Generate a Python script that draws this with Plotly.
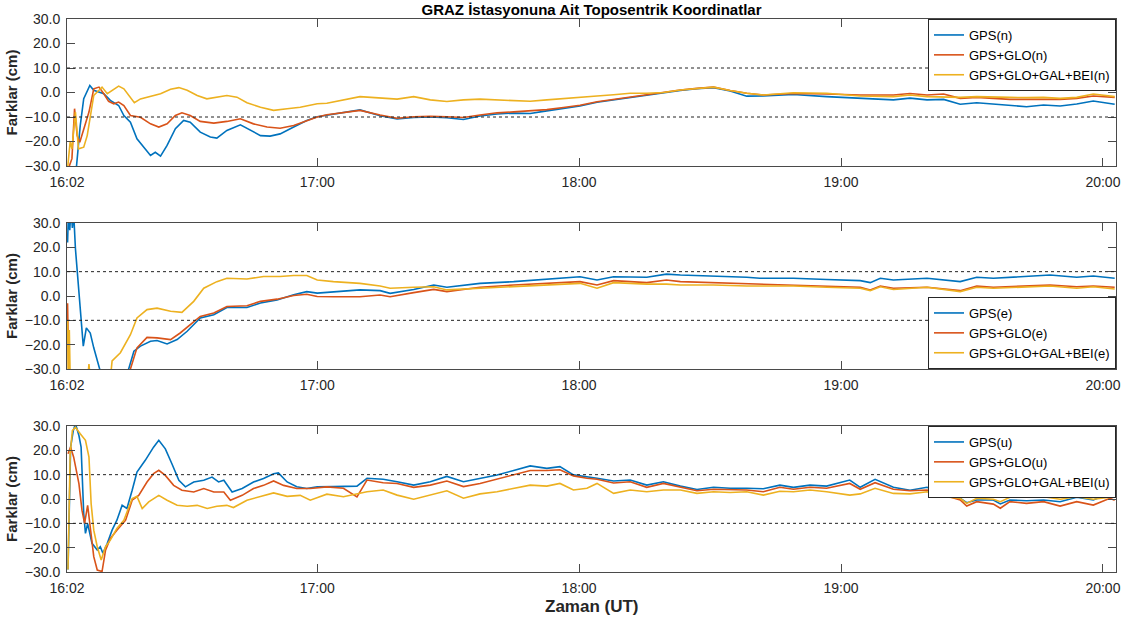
import pandas as pd
import plotly.graph_objects as go

# Time stamps are minutes after 16:00 UT, values are coordinate differences in cm.
START = pd.Timestamp("2019-05-01 16:00:00")

# ---- North component ----
N_GPS = [(4.8, -31), (5.7, -13.5), (6.5, -2.5), (7.9, 2.9), (8.8, 0.9), (11.1, -0.5), (12.6, -3.2),
         (14.5, -5.3), (15.7, -9.4), (17.2, -12.1), (18.7, -18.9), (20.2, -22.3), (21.8, -25.7),
         (22.9, -24.4), (24.1, -26.0), (25.6, -21.6), (27.5, -14.8), (29.4, -11.4), (30.9, -12.1),
         (33.2, -16.2), (35.5, -18.2), (37.0, -18.6), (39.3, -15.5), (42.4, -13.2), (44.7, -15.5),
         (47.0, -17.6), (49.2, -17.8), (51.5, -16.9), (54.6, -14.1), (57.6, -11.4), (60.0, -9.9),
         (62.2, -9.2), (69.8, -7.1), (74.4, -9.5), (78.3, -10.8), (82.1, -10.2), (85.9, -10.0),
         (89.7, -10.3), (93.5, -11.0), (97.3, -9.6), (101.2, -8.8), (105.0, -8.4), (108.8, -8.6),
         (112.6, -7.5), (116.4, -6.4), (120.2, -5.5), (124.1, -4.0), (127.9, -3.0), (131.7, -2.3),
         (135.5, -1.2), (139.3, -0.2), (143.2, 0.8), (147.0, 1.5), (150.8, 2.0), (154.6, 0.6),
         (158.4, -1.5), (162.2, -1.4), (169.1, -0.8), (176.7, -1.7), (184.4, -2.3), (192.0, -3.0),
         (195.8, -2.3), (199.7, -3.0), (203.5, -2.8), (207.3, -4.8), (211.1, -4.2), (214.9, -4.8),
         (218.7, -5.5), (222.5, -5.8), (226.4, -5.1), (230.2, -5.5), (234.0, -4.7), (237.8, -3.5),
         (242.7, -4.8)]
N_GLO = [(3.0, -31), (3.8, -27), (4.4, -6.6), (5.0, -17.6), (5.6, -20.3), (6.5, -14.8), (7.7, -8.0),
         (8.8, 1.5), (10.0, 2.2), (11.1, -0.5), (12.2, -3.6), (13.4, -4.6), (14.5, -3.9), (15.7, -5.3),
         (17.2, -9.4), (19.5, -10.1), (21.8, -12.8), (23.7, -14.1), (25.6, -12.8), (27.5, -9.4),
         (29.0, -8.3), (30.9, -9.4), (33.2, -11.8), (36.3, -12.5), (39.3, -11.8), (42.4, -10.7),
         (45.4, -12.8), (48.5, -14.1), (51.5, -14.6), (54.6, -13.5), (57.6, -11.4), (60.0, -10.0),
         (62.2, -9.1), (69.8, -7.3), (74.4, -9.2), (78.3, -10.5), (82.1, -9.9), (85.9, -9.7),
         (89.7, -9.9), (93.5, -10.2), (97.3, -9.2), (101.2, -8.3), (105.0, -7.9), (108.8, -7.5),
         (112.6, -7.0), (116.4, -6.1), (120.2, -5.2), (124.1, -3.8), (127.9, -2.8), (131.7, -2.1),
         (135.5, -1.0), (139.3, 0.0), (143.2, 1.0), (147.0, 1.7), (150.8, 2.2), (154.6, 0.8),
         (158.4, -0.3), (162.2, -1.0), (169.1, -0.4), (176.7, -0.6), (184.4, -1.0), (192.0, -1.0),
         (195.8, -0.4), (199.7, -1.0), (203.5, -0.6), (207.3, -2.4), (211.1, -2.0), (214.9, -2.4),
         (218.7, -2.8), (222.5, -2.8), (226.4, -2.8), (230.2, -2.8), (234.0, -2.4), (237.8, -1.4),
         (242.7, -2.0)]
N_ALL = [(2.8, -31), (3.4, -20), (3.8, -23), (4.6, -8.0), (5.3, -23), (6.5, -22.3), (7.3, -17.6),
         (8.0, -9.4), (8.8, -1.2), (10.0, 0.9), (10.7, 2.2), (11.9, -0.5), (13.4, 1.5), (14.5, 2.6),
         (15.7, 1.5), (17.2, -1.9), (18.1, -4.2), (19.5, -2.6), (21.8, -1.5), (24.1, -0.5),
         (26.4, 1.3), (28.3, 2.0), (30.2, 0.9), (32.5, -1.2), (34.7, -2.6), (37.0, -1.9),
         (39.3, -1.2), (41.6, -1.9), (43.9, -4.2), (47.0, -6.0), (50.0, -7.3), (53.1, -6.6),
         (56.1, -6.0), (60.0, -4.6), (62.2, -4.4), (69.8, -1.7), (74.4, -2.4), (78.3, -2.7),
         (82.1, -1.7), (85.9, -3.0), (89.7, -3.7), (93.5, -3.0), (97.3, -2.7), (101.2, -3.0),
         (105.0, -3.3), (108.8, -3.6), (112.6, -3.0), (116.4, -2.4), (120.2, -1.9), (124.1, -1.4),
         (127.9, -0.9), (131.7, -0.3), (135.5, -0.3), (139.3, 0.0), (143.2, 1.0), (147.0, 1.7),
         (150.8, 2.2), (154.6, 0.8), (158.4, -0.3), (162.2, -1.0), (169.1, -0.1), (176.7, -0.3),
         (184.4, -1.4), (192.0, -1.7), (195.8, -1.0), (199.7, -1.7), (203.5, -2.0), (207.3, -2.0),
         (211.1, -1.7), (214.9, -1.7), (218.7, -2.0), (222.5, -2.1), (226.4, -2.0), (230.2, -2.4),
         (234.0, -2.0), (237.8, -0.6), (242.7, -1.7)]

# ---- East component ----
E_GPS = [(2.8, 22), (3.0, 34), (3.3, 27), (3.6, 36), (3.9, 28), (4.2, 34), (4.6, 19.5), (5.4, 0.5),
         (6.4, -20.6), (7.1, -13.1), (8.0, -15.2), (8.8, -21.3), (10.0, -29.5), (10.7, -33.5),
         (12.0, -36), (15.0, -36), (16.8, -30), (18.0, -22.7), (19.5, -20.6), (21.8, -18.6),
         (23.3, -18.3), (25.6, -19.7), (27.9, -17.9), (30.2, -14.5), (33.2, -9.0), (36.3, -7.7),
         (39.3, -4.7), (43.9, -4.7), (47.0, -2.9), (50.8, -1.6), (54.6, 0.5), (57.6, 1.8),
         (60.0, 1.2), (63.7, 1.8), (69.8, 2.5), (74.4, 2.2), (76.7, 1.1), (82.1, 2.7), (86.7, 4.5),
         (89.7, 3.6), (97.3, 5.2), (105.0, 5.9), (112.6, 6.8), (120.2, 7.9), (124.1, 6.6),
         (127.9, 7.9), (135.5, 7.7), (140.0, 9.0), (143.2, 8.6), (150.8, 8.2), (158.4, 7.7),
         (161.4, 7.3), (169.1, 7.3), (176.7, 6.8), (184.4, 6.3), (186.7, 5.5), (189.0, 7.3),
         (192.0, 6.6), (199.7, 7.3), (207.3, 5.9), (211.1, 7.7), (214.9, 7.3), (222.5, 7.9),
         (227.9, 8.6), (234.0, 7.7), (237.8, 8.2), (242.7, 7.3)]
E_GLO = [(2.8, -3), (3.1, -35), (16.0, -36), (17.2, -30), (18.7, -21.3), (21.0, -17.0), (23.3, -17.2),
         (26.4, -17.9), (28.6, -15.2), (30.9, -11.8), (33.2, -8.4), (36.3, -7.0), (39.3, -4.3),
         (43.9, -4.0), (47.0, -2.2), (50.8, -1.3), (54.6, 0.2), (57.6, 0.7), (60.0, -0.2),
         (63.7, -0.3), (69.8, -0.3), (74.4, 0.4), (76.7, -0.3), (82.1, 1.4), (86.7, 2.7), (89.7, 1.8),
         (97.3, 3.6), (105.0, 4.5), (112.6, 5.2), (120.2, 5.9), (124.1, 4.5), (127.9, 6.3),
         (135.5, 5.5), (140.0, 6.6), (143.2, 5.9), (150.8, 5.5), (158.4, 5.2), (161.4, 4.9),
         (169.1, 4.5), (176.7, 4.1), (184.4, 3.6), (186.7, 2.5), (189.0, 4.1), (192.0, 3.2),
         (199.7, 3.6), (207.3, 2.2), (211.1, 4.1), (214.9, 3.6), (222.5, 4.1), (227.9, 4.5),
         (234.0, 3.8), (237.8, 4.1), (242.7, 3.6)]
E_ALL = [(2.8, -10), (2.95, -33), (3.2, -14), (3.4, -34), (7.4, -34), (7.7, -28), (8.0, -34),
         (12.6, -34), (13.0, -26.7), (14.9, -23.3), (17.2, -15.9), (18.7, -9.0), (21.0, -5.6),
         (23.3, -5.0), (26.4, -6.3), (29.0, -6.7), (31.7, -2.2), (34.0, 3.2), (37.0, 5.9),
         (39.3, 7.3), (43.9, 7.0), (47.7, 8.0), (51.5, 8.0), (54.6, 8.4), (57.6, 8.4), (60.0, 6.6),
         (63.7, 5.9), (69.8, 5.2), (74.4, 4.1), (76.7, 3.2), (82.1, 3.6), (86.7, 3.8), (89.7, 2.5),
         (97.3, 3.2), (105.0, 3.8), (112.6, 4.5), (120.2, 5.2), (124.1, 3.2), (127.9, 5.5),
         (135.5, 4.9), (140.0, 4.9), (143.2, 4.5), (150.8, 4.5), (158.4, 4.1), (161.4, 4.1),
         (169.1, 4.1), (176.7, 3.6), (184.4, 3.2), (186.7, 2.2), (189.0, 3.8), (192.0, 2.7),
         (199.7, 3.6), (207.3, 1.8), (211.1, 3.6), (214.9, 3.2), (222.5, 3.6), (227.9, 4.1),
         (234.0, 3.2), (237.8, 3.8), (242.7, 2.9)]

# ---- Up component ----
U_GPS = [(2.9, -29), (3.5, 21.3), (4.1, 28), (4.6, 31), (5.4, 26.1), (5.9, 21.3), (6.5, -6),
         (6.9, -14.1), (7.4, -10.1), (8.4, -18.2), (9.6, -21), (10.3, -19.6), (10.9, -22.3),
         (11.9, -18.2), (13.0, -12.8), (14.1, -8.7), (15.3, -2.6), (16.4, -3.9), (17.6, 3.6),
         (18.7, 11.1), (20.6, 15.9), (22.5, 21.3), (23.7, 24.1), (25.2, 20.6), (26.7, 14.5),
         (28.3, 7.7), (29.8, 5.0), (31.7, 7.0), (34.0, 7.7), (35.9, 9.0), (37.4, 7.0), (38.6, 7.7),
         (40.5, 2.9), (42.8, 4.3), (45.4, 7.0), (47.7, 8.4), (50.0, 10.4), (51.1, 10.7), (53.1, 7.0),
         (55.3, 5.0), (57.6, 4.3), (60.0, 5.0), (63.7, 5.1), (69.1, 5.3), (71.4, 8.5), (75.1, 8.1),
         (78.3, 7.1), (82.1, 5.7), (85.9, 7.1), (89.7, 9.3), (93.5, 7.1), (97.3, 8.5), (101.2, 9.9),
         (105.0, 11.7), (108.8, 13.6), (112.6, 12.6), (115.6, 13.3), (118.7, 9.9), (121.8, 9.2),
         (124.1, 8.5), (127.9, 7.4), (131.7, 7.8), (135.5, 5.7), (139.3, 7.1), (143.2, 5.3),
         (147.0, 3.9), (150.8, 4.8), (154.6, 4.4), (158.4, 4.4), (162.2, 4.2), (166.0, 5.7),
         (169.1, 4.8), (172.9, 5.7), (176.7, 5.3), (182.0, 7.8), (184.4, 4.8), (187.8, 8.1),
         (192.0, 4.8), (195.8, 3.6), (199.7, 4.8), (203.5, 2.1), (207.3, 0.3), (208.8, -1.5),
         (211.1, -0.4), (214.9, -0.4), (216.5, -2.0), (218.7, -0.4), (222.5, -0.7), (226.4, -0.4),
         (230.2, -1.1), (234.0, 0.7), (237.8, -0.4), (241.6, 2.3), (242.7, 1.5)]
U_GLO = [(2.9, 18.6), (3.5, 21.3), (4.2, 17.2), (5.4, 6.3), (6.1, -4.6), (6.7, -10), (7.4, -2.6),
         (8.0, -11.4), (8.8, -23.7), (9.6, -29.2), (10.7, -29.8), (11.5, -21), (12.6, -16.2),
         (14.1, -12.8), (16.1, -8.7), (17.6, -0.5), (19.1, 1.5), (21.0, 7.0), (22.5, 10.4),
         (23.7, 11.8), (25.2, 9.7), (27.1, 5.6), (29.0, 3.6), (31.7, 2.9), (34.0, 4.3), (36.3, 2.9),
         (38.6, 2.9), (40.1, -0.5), (42.8, 1.5), (45.4, 4.3), (47.7, 5.6), (50.0, 7.4), (52.3, 5.6),
         (55.3, 4.3), (58.4, 4.3), (62.2, 5.0), (66.0, 4.4), (69.1, 0.9), (71.4, 7.8), (75.1, 6.7),
         (78.3, 6.4), (82.1, 4.8), (85.9, 5.7), (89.7, 7.4), (93.5, 5.1), (97.3, 6.4), (101.2, 8.1),
         (105.0, 9.9), (108.8, 11.7), (112.6, 11.7), (115.6, 12.0), (118.7, 9.5), (121.8, 8.5),
         (124.1, 8.1), (127.9, 6.6), (131.7, 7.1), (135.5, 4.8), (139.3, 6.4), (143.2, 4.8),
         (147.0, 3.4), (150.8, 4.0), (154.6, 3.7), (158.4, 3.7), (162.2, 3.0), (166.0, 4.8),
         (169.1, 4.0), (172.9, 4.8), (176.7, 4.4), (182.0, 6.4), (184.4, 4.0), (187.8, 6.7),
         (192.0, 4.0), (195.8, 3.4), (199.7, 3.7), (203.5, 1.6), (207.3, -0.4), (208.8, -2.9),
         (211.1, -1.1), (214.9, -2.1), (216.5, -3.8), (218.7, -1.1), (222.5, -1.8), (226.4, -1.1),
         (230.2, -2.9), (234.0, -1.1), (237.8, -2.5), (241.6, 0.3), (242.7, -0.5)]
U_ALL = [(2.9, -29), (3.4, 18.6), (3.9, 28.1), (4.6, 29.5), (5.7, 26.8), (6.9, 24.1), (7.7, 17.2),
         (8.2, -1.9), (8.8, -12.8), (9.6, -19.6), (10.5, -25.1), (11.5, -19.6), (12.6, -16.9),
         (14.1, -12.1), (15.7, -8.7), (17.6, 0.2), (18.7, 1.1), (19.9, -3.9), (21.4, -1.2),
         (23.7, 1.5), (25.6, -0.5), (27.9, -2.6), (30.2, -3.0), (32.5, -2.6), (34.8, -3.9),
         (37.0, -3.0), (39.3, -2.6), (40.8, -3.5), (43.9, -0.5), (47.0, 1.1), (50.0, 2.5),
         (53.1, 1.1), (56.1, 1.5), (58.4, -0.5), (62.2, 2.0), (66.0, 0.9), (71.4, 3.0), (75.1, 3.7),
         (78.3, 1.6), (82.1, -0.1), (85.9, 1.6), (89.7, 3.4), (93.5, 0.3), (97.3, 2.1), (101.2, 3.0),
         (105.0, 4.4), (108.8, 5.7), (112.6, 5.3), (115.6, 6.4), (118.7, 3.7), (121.8, 4.4),
         (124.1, 6.4), (127.9, 2.3), (131.7, 3.7), (135.5, 3.0), (139.3, 3.7), (143.2, 3.7),
         (147.0, 2.3), (150.8, 3.0), (154.6, 2.7), (158.4, 3.0), (162.2, 1.6), (166.0, 3.2),
         (169.1, 3.0), (172.9, 3.7), (176.7, 3.0), (182.0, 1.6), (184.4, 2.1), (187.8, 4.4),
         (192.0, 2.3), (195.8, 2.1), (199.7, 3.0), (203.5, 0.9), (207.3, 0.3), (208.8, -1.8),
         (211.1, 0.3), (214.9, -0.1), (216.5, -1.1), (218.7, 0.7), (222.5, 0.9), (226.4, 0.9),
         (230.2, -0.1), (234.0, 0.9), (237.8, -0.1), (241.6, 0.9), (242.7, 0.9)]

SERIES_NAMES = ["GPS", "GPS+GLO", "GPS+GLO+GAL+BEI"]
COLORS = ["#0072BD", "#D95319", "#EDB120"]
PANELS = [("n", [N_GPS, N_GLO, N_ALL]), ("e", [E_GPS, E_GLO, E_ALL]), ("u", [U_GPS, U_GLO, U_ALL])]

Y_TICKS = [-30, -20, -10, 0, 10, 20, 30]
X_TICK_MIN = [2.67, 60, 120, 180, 240]
X_TICK_TEXT = ["16:02", "17:00", "18:00", "19:00", "20:00"]
X_RANGE_MIN = [2.67, 243.0]

TITLE = "GRAZ İstasyonuna Ait Toposentrik Koordinatlar"
Y_TITLE = "Farklar (cm)"
X_TITLE = "Zaman (UT)"


def to_time(minutes):
    return [START + pd.Timedelta(minutes=m) for m in minutes]


W, H = 1136, 628
M_L, M_R, M_T, M_B = 67, 20, 19, 56
PLOT_H = H - M_T - M_B
# pixel extents (top, bottom) of each panel
PANEL_PX = [(19, 166), (223, 369), (426, 572)]
FONT = "Liberation Sans, Arial, Helvetica, sans-serif"
AXIS_COLOR = "#4a4a4a"
TEXT_COLOR = "#262626"


def py(pix):
    return (H - M_B - pix) / PLOT_H


fig = go.Figure()
layout = {}
for i, (comp, series) in enumerate(PANELS):
    idx = "" if i == 0 else str(i + 1)
    for name, color, data in zip(SERIES_NAMES, COLORS, series):
        mins = [p[0] for p in data]
        vals = [p[1] for p in data]
        fig.add_trace(go.Scatter(
            x=to_time(mins), y=vals, mode="lines",
            line=dict(color=color, width=1.6),
            name=f"{name}({comp})",
            xaxis="x" + idx, yaxis="y" + idx,
            legend="legend" + idx,
        ))
    top, bot = PANEL_PX[i]
    layout["xaxis" + idx] = dict(
        domain=[0, 1], anchor="y" + idx, type="date",
        range=to_time(X_RANGE_MIN),
        tickvals=to_time(X_TICK_MIN), ticktext=X_TICK_TEXT,
        ticks="inside", ticklen=8, tickwidth=1, tickcolor=AXIS_COLOR,
        showline=True, linecolor=AXIS_COLOR, linewidth=1, mirror="ticks",
        showgrid=False, zeroline=False, ticklabelstandoff=3,
        tickfont=dict(family=FONT, size=14, color=TEXT_COLOR),
    )
    layout["yaxis" + idx] = dict(
        domain=[py(bot), py(top)], anchor="x" + idx,
        range=[-30, 30], tickvals=Y_TICKS, tickformat=".1f",
        ticks="inside", ticklen=8, tickwidth=1, tickcolor=AXIS_COLOR,
        showline=True, linecolor=AXIS_COLOR, linewidth=1, mirror="ticks",
        showgrid=False, zeroline=False, ticklabelstandoff=3,
        tickfont=dict(family=FONT, size=14, color=TEXT_COLOR),
        title=dict(text=Y_TITLE, standoff=3,
                   font=dict(family=FONT, size=15, color=TEXT_COLOR, weight="bold")),
    )
    # dotted reference lines at +/-10 cm
    for level in (10, -10):
        fig.add_shape(type="line", xref=f"x{idx} domain", yref="y" + idx,
                      x0=0, x1=1, y0=level, y1=level,
                      line=dict(color="#222222", width=1, dash="3px,3px"))

legend_style = dict(
    bgcolor="white", bordercolor="#262626", borderwidth=1,
    font=dict(family=FONT, size=13, color="black"),
    itemwidth=30, tracegroupgap=0, xanchor="right", x=1,
)
layout["legend"] = dict(legend_style, y=py(PANEL_PX[0][0]), yanchor="top")
layout["legend2"] = dict(legend_style, y=py(PANEL_PX[1][1]), yanchor="bottom")
layout["legend3"] = dict(legend_style, y=py(PANEL_PX[2][0]), yanchor="top")

fig.update_layout(
    **layout,
    width=W, height=H,
    margin=dict(l=M_L, r=M_R, t=M_T, b=M_B),
    paper_bgcolor="white", plot_bgcolor="white",
    showlegend=True,
    title=dict(text=TITLE, x=(M_L + (W - M_L - M_R) / 2) / W, xanchor="center",
               y=1 - 10 / H, yanchor="middle",
               font=dict(family=FONT, size=15, color="black", weight="bold")),
    annotations=[dict(text=X_TITLE, xref="paper", yref="paper", x=0.5, y=py(607),
                      xanchor="center", yanchor="middle", showarrow=False,
                      font=dict(family=FONT, size=17, color=TEXT_COLOR, weight="bold"))],
)

fig.write_html("out.html")
